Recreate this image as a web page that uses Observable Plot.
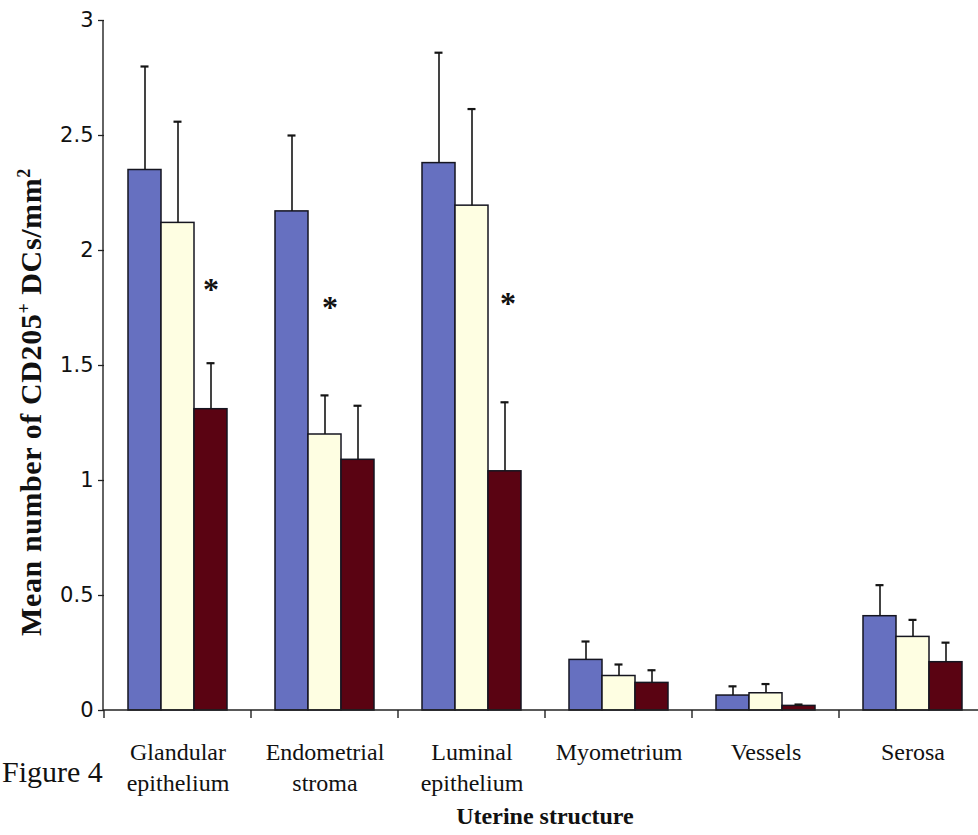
<!DOCTYPE html>
<html>
<head>
<meta charset="utf-8">
<script src="https://cdn.jsdelivr.net/npm/d3@7"></script>
<script src="https://cdn.jsdelivr.net/npm/@observablehq/plot@0.6"></script>
<style>
  html, body { margin: 0; padding: 0; background: #fff; }
  #wrap { position: relative; width: 978px; height: 835px; overflow: hidden; }
  #wrap svg { position: absolute; left: 0; top: 0; }
  .ov { position: absolute; font-family: "Liberation Serif", serif; color: #111; white-space: nowrap; }
  #fig { left: 2px; top: 755px; font-size: 30px; }
  #xt { left: 545px; top: 803px; font-size: 24px; font-weight: bold; transform: translateX(-50%); }
  #yt { left: 31px; top: 402px; font-size: 30px; font-weight: bold; letter-spacing: 0.6px; transform: translate(-50%, -50%) rotate(-90deg); }
</style>
</head>
<body>
<div id="wrap">
  <div class="ov" id="fig">Figure 4</div>
  <div class="ov" id="xt">Uterine structure</div>
  <div class="ov" id="yt">Mean number of CD205<sup style="font-size:0.6em">+</sup> DCs/mm<sup style="font-size:0.6em">2</sup></div>
</div>
<script>
const categories = ["Glandular\nepithelium", "Endometrial\nstroma", "Luminal\nepithelium", "Myometrium", "Vessels", "Serosa"];
const series = ["Group 1", "Group 2", "Group 3"];
const seriesColors = ["#6670c0", "#fefee2", "#5a0312"];

const means1 = [2.35, 2.17, 2.38, 0.22, 0.065, 0.41];
const errs1  = [0.45, 0.33, 0.48, 0.08, 0.04, 0.135];
const means2 = [2.12, 1.20, 2.195, 0.15, 0.075, 0.32];
const errs2  = [0.44, 0.17, 0.42, 0.05, 0.04, 0.074];
const means3 = [1.31, 1.09, 1.04, 0.12, 0.02, 0.21];
const errs3  = [0.20, 0.235, 0.30, 0.055, 0.006, 0.085];

const yTicks = [0, 0.5, 1, 1.5, 2, 2.5, 3];

// significance asterisks
const starCategory = ["Glandular\nepithelium", "Endometrial\nstroma", "Luminal\nepithelium"];
const starSeries = ["Group 3", "Group 2", "Group 3"];
const starY = [1.835, 1.757, 1.774];
const starNudge = [0, 5, 3];

const allMeans = [means1, means2, means3];
const allErrs = [errs1, errs2, errs3];
const rows = [];
categories.forEach((c, i) => series.forEach((s, j) => {
  rows.push({cat: c, series: s, value: allMeans[j][i], err: allErrs[j][i]});
}));
const stars = starCategory.map((c, i) => ({cat: c, series: starSeries[i], y: starY[i]}));

const plot = Plot.plot({
  width: 978,
  height: 835,
  marginLeft: 103,
  marginRight: -9,
  marginTop: 20,
  marginBottom: 125,
  style: {fontFamily: "Liberation Serif", background: "transparent", color: "#111"},
  fx: {domain: categories, padding: 0, label: null},
  x: {domain: series, paddingInner: 0, paddingOuter: 0.71, axis: null},
  y: {domain: [0, 3]},
  color: {domain: series, range: seriesColors},
  marks: [
    Plot.axisY({ticks: yTicks, tickFormat: d => String(d), tickSize: 6, tickPadding: 5, fontSize: 21,
      fontFamily: "DejaVu Sans", label: null, stroke: "#222", strokeWidth: 1.3}),
    Plot.axisFx({anchor: "bottom", tickSize: 0, tickPadding: 27, fontSize: 24, lineHeight: 1.3,
      fontFamily: "Liberation Serif", label: null}),
    Plot.barY(rows, {fx: "cat", x: "series", y: "value", fill: "series", stroke: "#151520", strokeWidth: 1.5}),
    Plot.ruleX(rows, {fx: "cat", x: "series", y1: "value", y2: d => d.value + d.err, stroke: "#151515", strokeWidth: 1.6}),
    Plot.tickY(rows, {fx: "cat", x: "series", y: d => d.value + d.err, stroke: "#151515", strokeWidth: 2.2, insetLeft: 12.5, insetRight: 12.5}),
    ...stars.map((s, i) => Plot.text([s], {fx: "cat", x: "series", y: "y", text: () => "*", dx: starNudge[i], dy: 1,
      fontSize: 32, fontWeight: "bold", fontFamily: "Liberation Serif", fill: "#111", lineAnchor: "middle"}))
  ]
});

// axis lines and category ticks (Excel-style), positioned through Plot's own scales
const fxS = plot.scale("fx");
const yS = plot.scale("y");
const g = d3.select(plot).append("g").attr("stroke", "#222").attr("stroke-width", 1.4);
const x0 = fxS.range[0], x1 = fxS.range[1];
const y0 = yS.apply(0);
g.append("line").attr("x1", x0).attr("x2", x1).attr("y1", y0).attr("y2", y0);
g.append("line").attr("x1", x0).attr("x2", x0).attr("y1", yS.apply(3)).attr("y2", y0);
const bounds = categories.map(c => fxS.apply(c)).concat([x1]);
bounds.forEach(b => g.append("line").attr("x1", b).attr("x2", b).attr("y1", y0).attr("y2", y0 + 8));

document.getElementById("wrap").prepend(plot);
</script>
</body>
</html>
